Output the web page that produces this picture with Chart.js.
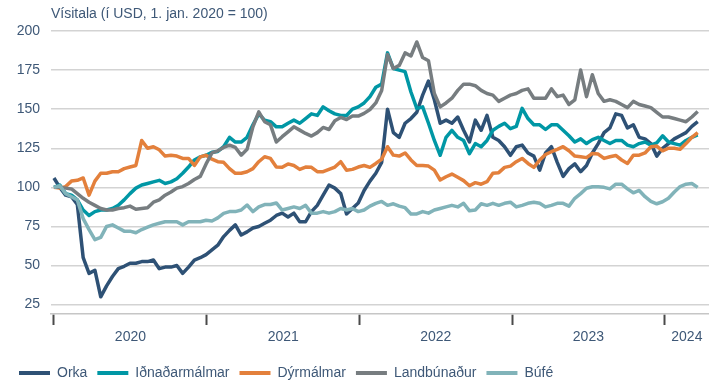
<!DOCTYPE html>
<html>
<head>
<meta charset="utf-8">
<script src="https://cdn.jsdelivr.net/npm/chart.js@4.4.1/dist/chart.umd.min.js"></script>
<style>
  html, body { margin: 0; padding: 0; background: #fff; }
  #wrap { width: 709px; height: 383px; }
</style>
</head>
<body>
<div id="wrap"><canvas id="myChart" width="709" height="383"></canvas></div>
<script>
// Hrávöruvísitölur í USD, tveggja vikna gildi frá 1. jan. 2020
const startDate = Date.UTC(2020, 0, 1);
const stepDays = 14;
const years = ['2020', '2021', '2022', '2023', '2024'];
const yTicks = [25, 50, 75, 100, 125, 150, 175, 200];
const seriesNames = ['Orka', 'Iðnaðarmálmar', 'Dýrmálmar', 'Landbúnaður', 'Búfé'];

const orka = [
  106, 100, 95, 94, 89, 55, 45, 47, 30, 37,
  43, 48, 49.5, 51.5, 51.5, 52.5, 52.5, 53.5, 48, 49,
  49, 50, 45, 49, 53.5, 55, 57, 60, 63, 68.5,
  72.5, 76, 69.5, 71.5, 74, 75, 77, 79, 82, 83.5,
  81, 83.5, 78, 78, 84.5, 88.5, 95, 101.5, 99.5, 96,
  83, 86.5, 90, 98, 104, 109, 116, 150, 135, 132,
  141, 144, 148, 159, 168, 156, 141, 143, 141, 145,
  136.5, 129, 143, 136.5, 146, 132, 130, 126, 120.5, 126,
  127, 122, 120, 111, 122, 126, 116, 107, 112, 115,
  110, 114, 122, 128, 135, 138, 147, 146, 138, 140,
  132, 131, 128, 120, 125, 128, 131, 133, 135, 139, 142
];
const idnadarmalmar = [
  100, 101.5, 96, 95, 92, 85.5, 82, 84.5, 85.5, 85.5,
  86.5, 88.5, 92, 96, 99.5, 101.5, 102.5, 103.5, 104.5, 102.5,
  103.5, 105.5, 109, 113, 117.5, 119.5, 120.5, 122.5, 123, 126,
  132, 129, 129, 132, 140, 147, 143, 142, 138.7, 138.7,
  141, 143, 141, 144, 147, 146, 151.5, 149, 147, 146,
  146, 150, 151.5, 154, 158, 164, 166, 186, 176, 175,
  174, 161, 150.5, 151.5, 141, 130, 120.5, 132, 136.5, 132,
  130, 121.5, 128, 126, 130, 136.5, 139, 141, 137.5, 139,
  150.5, 144, 140, 140, 137, 140, 140, 136.5, 133, 129,
  131, 128, 130.5, 132, 130, 128, 130, 130, 127, 126,
  128, 129, 127, 128.5, 133, 129, 128, 127, 130, 132, 133.5
];
const dyrmalmar = [
  100, 99.5, 100.5, 104, 104.5, 106, 95, 104, 109, 109,
  110, 110, 112, 113, 114, 130, 125, 126, 124, 120,
  120.5, 120, 118.5, 118.5, 114, 119.5, 120.5, 118, 116.4, 116,
  112, 109, 109, 110, 112, 116.4, 119.6, 118.5, 113, 112.8,
  115, 114, 111.5, 113, 112.8, 110, 110, 111.5, 113, 116.4,
  111, 111.5, 113, 114, 112.8, 115.3, 118, 126, 120.6, 120,
  122, 117.5, 114, 114, 113.6, 111, 104.7, 106.8, 108.5, 106.4,
  104.3, 101, 103, 102, 103.6, 109, 109.4, 112.8, 113.6, 116.4,
  118.5, 115.3, 112.8, 117.5, 121, 122.8, 124.3, 126, 123.4, 120,
  119.6, 119, 121.7, 121.3, 118.5, 119.6, 120.4, 117.5, 115.3, 120.6,
  120.6, 122, 126, 126.4, 123.4, 125, 125, 124.3, 128, 132, 135
];
const landbunadur = [
  100, 100, 99.5, 99, 96, 93, 90.5, 88.5, 86.5, 85.5,
  85.5, 86.5, 87, 88, 86, 86.5, 87, 90.5, 92, 95,
  97, 99.5, 100.5, 102.5, 105, 107, 115, 122, 123.4, 125.5,
  127, 125.5, 120.6, 124.3, 138.7, 148.3, 142, 140, 129, 132.4,
  135.5, 138.7, 136.6, 134.5, 132.8, 135, 138.3, 137, 142.6, 144.7,
  143.4, 145.6, 145.6, 147.3, 149.8, 154, 162, 185, 176, 178,
  186, 184, 193, 183, 181, 160, 151.5, 154, 157, 162,
  166, 166, 165, 162, 160, 159, 155, 157, 159, 160,
  162, 163, 157, 157, 157, 163, 158, 159, 153, 156,
  175, 158, 172, 160, 155, 156, 155, 153, 151, 155,
  153, 152, 151, 148, 145, 145, 144, 143, 142, 145, 148.5
];
const bufe = [
  100, 101, 96, 94, 92, 80, 73, 66.5, 68, 75,
  76, 74, 72, 72, 71, 73, 74.5, 76, 77, 78,
  78, 78, 76, 78, 78, 78, 79, 78.5, 80.5, 83.4,
  84.5, 84.5, 85.5, 88.7, 84.5, 87.5, 89, 89, 90, 85.5,
  86.5, 87.5, 86.5, 88.5, 83.5, 83.5, 84.5, 83.5, 84.5, 86.5,
  85.5, 86.5, 84.5, 85.5, 88, 89.8, 91, 88.5, 89.5, 88,
  87, 83, 83, 84.5, 83.5, 85.5, 86.5, 87.5, 88.5, 87.5,
  89.8, 85, 85.5, 89.5, 88.5, 89.8, 88.5, 89.8, 90.5, 87.5,
  88.5, 89.8, 90.5, 89.8, 87.5, 88.5, 89.8, 89.8, 88, 93,
  96, 99.4, 100.4, 100.4, 100, 99, 102, 102, 99, 96.5,
  98, 94, 91, 89.5, 90.8, 93, 97, 100.5, 102, 102.5, 100
];

const colors = ['#2e5175', '#0097a5', '#e3803c', '#777d80', '#81b3b9'];
const textColor = '#3e5877';
const font = { family: 'Liberation Sans, Arial, sans-serif', size: 14 };

const dayOf = (y) => (Date.UTC(y, 0, 1) - startDate) / 864e5;
const xMin = -7;
const xMax = 1567;

// árin: merki við upphaf árs, texti í miðju árs (eða miðju sýnilega hlutans)
const yearStarts = years.map(y => dayOf(+y));
const yearMids = years.map((y, i) => {
  const end = i < years.length - 1 ? yearStarts[i + 1] : xMax;
  return (yearStarts[i] + end) / 2;
});
const midLabel = new Map(yearMids.map((d, i) => [d, years[i]]));

const toPoints = arr => arr.map((v, i) => ({ x: i * stepDays, y: v }));

const subtitle = {
  id: 'subtitle',
  afterDraw(chart) {
    const { ctx, chartArea } = chart;
    ctx.save();
    ctx.font = `${font.size}px ${font.family}`;
    ctx.fillStyle = textColor;
    ctx.textAlign = 'left';
    ctx.textBaseline = 'middle';
    ctx.fillText('Vísitala (í USD, 1. jan. 2020 = 100)', chartArea.left, 14);
    ctx.restore();
  }
};

const series = [orka, idnadarmalmar, dyrmalmar, landbunadur, bufe];

new Chart(document.getElementById('myChart'), {
  type: 'line',
  data: {
    datasets: series.map((s, i) => ({
      label: seriesNames[i],
      data: toPoints(s),
      borderColor: colors[i],
      backgroundColor: colors[i],
      borderWidth: 3.5,
      borderJoinStyle: 'round',
      pointRadius: 0,
      tension: 0,
      // síðari raðir teiknaðar ofan á fyrri
      order: series.length - i
    }))
  },
  options: {
    responsive: false,
    animation: false,
    events: [],
    layout: { padding: { left: 9, right: 0, top: 31, bottom: -7 } },
    scales: {
      x: {
        type: 'linear',
        min: xMin,
        max: xMax,
        afterBuildTicks: (scale) => {
          scale.ticks = yearStarts.concat(yearMids).sort((a, b) => a - b).map(v => ({ value: v }));
        },
        afterFit: (scale) => { scale.height = 42; },
        ticks: {
          autoSkip: false,
          maxRotation: 0,
          padding: 4,
          color: textColor,
          font: font,
          callback: (v) => midLabel.get(v) || ''
        },
        grid: {
          drawOnChartArea: false,
          drawTicks: true,
          tickLength: 11,
          tickWidth: 2,
          tickColor: (c) => (c.tick && midLabel.has(c.tick.value)) ? 'rgba(0,0,0,0)' : '#4a4a4a'
        },
        border: { display: true, color: '#c6c6c6', width: 1.5 }
      },
      y: {
        min: 19,
        max: 200,
        afterBuildTicks: (scale) => {
          scale.ticks = yTicks.map(v => ({ value: v }));
        },
        afterFit: (scale) => { scale.width = 42; },
        ticks: { padding: 11, color: textColor, font: font },
        grid: { color: '#d3d3d3', lineWidth: 1.5, drawTicks: false },
        border: { display: false }
      }
    },
    plugins: {
      tooltip: { enabled: false },
      title: { display: false },
      legend: {
        position: 'bottom',
        align: 'start',
        labels: {
          usePointStyle: true,
          pointStyle: 'line',
          pointStyleWidth: 31,
          padding: 10,
          color: textColor,
          font: font,
          sort: (a, b) => a.datasetIndex - b.datasetIndex,
          generateLabels: (chart) =>
            Chart.defaults.plugins.legend.labels.generateLabels(chart)
              .map(l => Object.assign(l, { lineWidth: 4 }))
        }
      }
    }
  },
  plugins: [subtitle]
});
</script>
</body>
</html>
